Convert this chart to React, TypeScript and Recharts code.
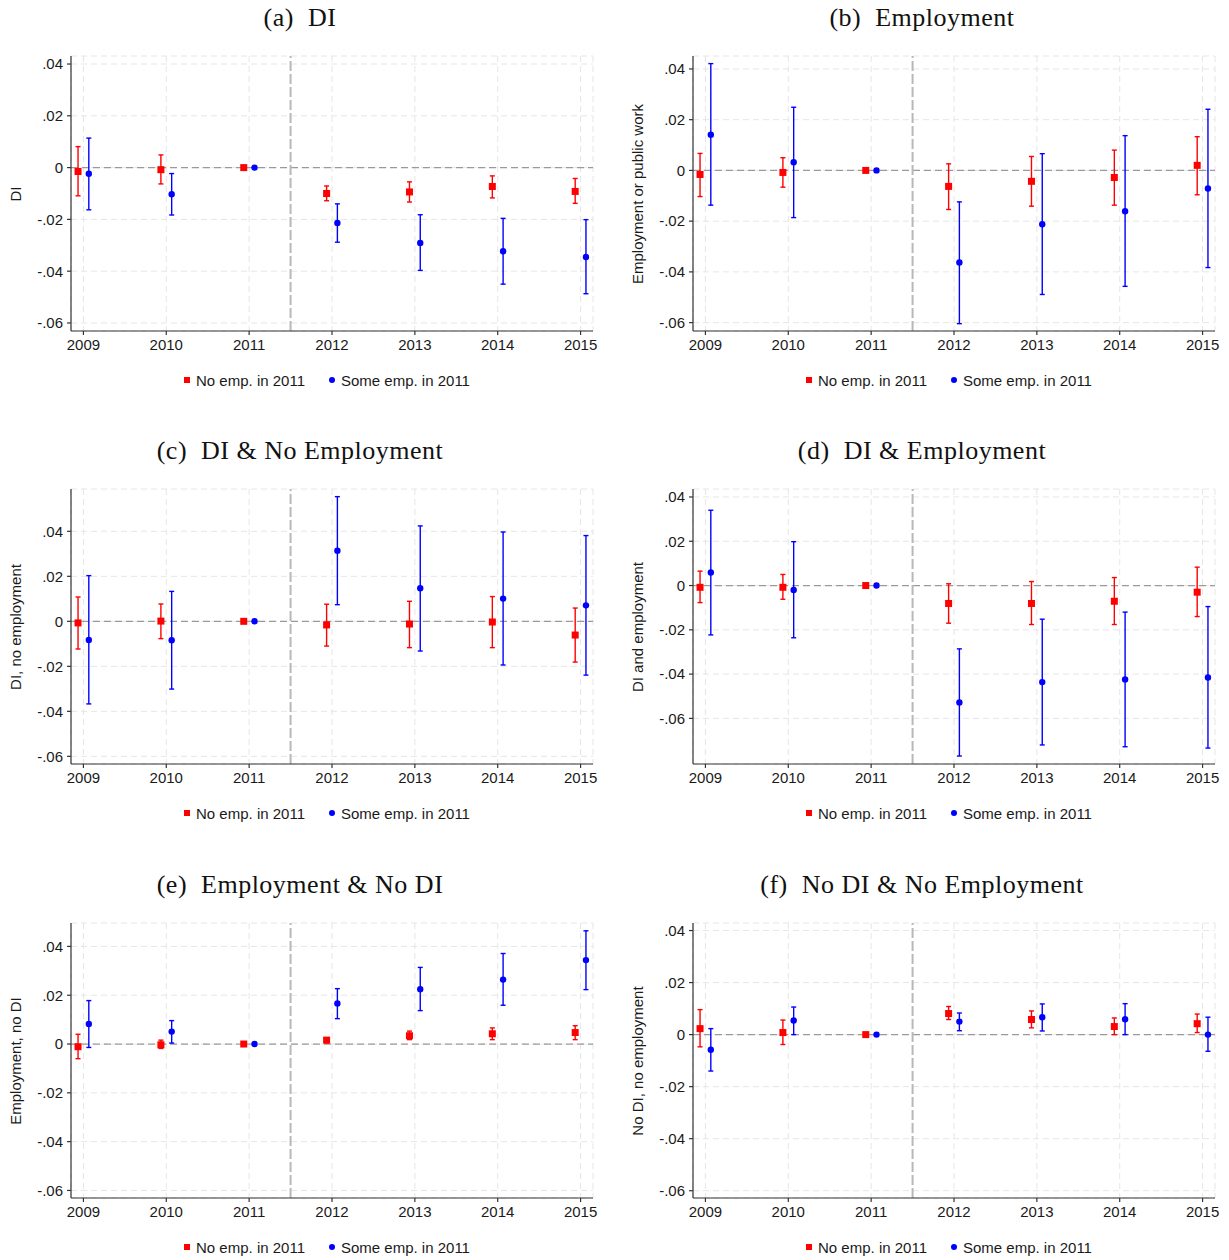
import React from "react";
import {
  ComposedChart,
  Scatter,
  ErrorBar,
  XAxis,
  YAxis,
  CartesianGrid,
  ReferenceLine,
} from "recharts";

const YEARS = [2009, 2010, 2011, 2012, 2013, 2014, 2015];
const Y_TICKS = [-0.06, -0.04, -0.02, 0, 0.02, 0.04];
const SERIES = ["No emp. in 2011", "Some emp. in 2011"];

const TITLES = [
  "(a)  DI",
  "(b)  Employment",
  "(c)  DI & No Employment",
  "(d)  DI & Employment",
  "(e)  Employment & No DI",
  "(f)  No DI & No Employment",
];
const Y_LABELS = [
  "DI",
  "Employment or public work",
  "DI, no employment",
  "DI and employment",
  "Employment, no DI",
  "No DI, no employment",
];

// [estimate, ci low, ci high] for 2009..2015
const DI_NO = [
  [-0.0015, -0.0109, 0.0081],
  [-0.0008, -0.0063, 0.0049],
  [0, 0, 0],
  [-0.01, -0.0128, -0.0071],
  [-0.0094, -0.0133, -0.0055],
  [-0.0073, -0.0117, -0.0032],
  [-0.0092, -0.0138, -0.0042],
];
const DI_SOME = [
  [-0.0024, -0.0163, 0.0114],
  [-0.0103, -0.0183, -0.0023],
  [0, 0, 0],
  [-0.0214, -0.0288, -0.014],
  [-0.0291, -0.0397, -0.0182],
  [-0.0323, -0.045, -0.0196],
  [-0.0345, -0.0487, -0.0201],
];
const EMP_NO = [
  [-0.0016, -0.0103, 0.0067],
  [-0.0008, -0.0066, 0.005],
  [0, 0, 0],
  [-0.0063, -0.0154, 0.0026],
  [-0.0043, -0.0141, 0.0055],
  [-0.0028, -0.0137, 0.008],
  [0.002, -0.0096, 0.0133],
];
const EMP_SOME = [
  [0.0141, -0.0137, 0.0421],
  [0.0032, -0.0186, 0.0249],
  [0, 0, 0],
  [-0.0363, -0.0604, -0.0124],
  [-0.0212, -0.0489, 0.0066],
  [-0.0161, -0.0457, 0.0137],
  [-0.0071, -0.0383, 0.0241],
];
const DINOEMP_NO = [
  [-0.0007, -0.0123, 0.0108],
  [0.0001, -0.0077, 0.0077],
  [0, 0, 0],
  [-0.0016, -0.011, 0.0076],
  [-0.0012, -0.0117, 0.0089],
  [-0.0003, -0.0117, 0.011],
  [-0.0061, -0.0181, 0.0059],
];
const DINOEMP_SOME = [
  [-0.0083, -0.0367, 0.0203],
  [-0.0084, -0.0301, 0.0133],
  [0, 0, 0],
  [0.0314, 0.0074, 0.0554],
  [0.0147, -0.0132, 0.0424],
  [0.0101, -0.0194, 0.0397],
  [0.0071, -0.0239, 0.0381],
];
const DIEMP_NO = [
  [-0.0008, -0.0077, 0.0065],
  [-0.0008, -0.0062, 0.005],
  [0, 0, 0],
  [-0.0081, -0.017, 0.0008],
  [-0.0081, -0.0176, 0.0018],
  [-0.0071, -0.0176, 0.0036],
  [-0.003, -0.014, 0.0083],
];
const DIEMP_SOME = [
  [0.0059, -0.0223, 0.034],
  [-0.002, -0.0236, 0.0198],
  [0, 0, 0],
  [-0.0528, -0.077, -0.0286],
  [-0.0436, -0.072, -0.0152],
  [-0.0424, -0.0728, -0.012],
  [-0.0415, -0.0734, -0.0095],
];
const EMPNODI_NO = [
  [-0.0011, -0.006, 0.004],
  [-0.0003, -0.0018, 0.0016],
  [0, 0, 0],
  [0.0016, 0.0005, 0.0026],
  [0.0034, 0.0018, 0.0053],
  [0.0042, 0.0018, 0.0066],
  [0.0047, 0.0018, 0.0075],
];
const EMPNODI_SOME = [
  [0.0082, -0.0014, 0.0178],
  [0.0051, 0.0004, 0.0096],
  [0, 0, 0],
  [0.0166, 0.0104, 0.0227],
  [0.0225, 0.0137, 0.0314],
  [0.0264, 0.0159, 0.0371],
  [0.0344, 0.0223, 0.0464],
];
const NONE_NO = [
  [0.0023, -0.0047, 0.0096],
  [0.0008, -0.0038, 0.0056],
  [0, 0, 0],
  [0.0081, 0.0058, 0.0108],
  [0.0058, 0.0026, 0.0091],
  [0.0031, 0.0, 0.0064],
  [0.0042, 0.0008, 0.0079],
];
const NONE_SOME = [
  [-0.0058, -0.014, 0.0023],
  [0.0054, 0.0, 0.0106],
  [0, 0, 0],
  [0.005, 0.0015, 0.0083],
  [0.0067, 0.0014, 0.0118],
  [0.0059, 0.0, 0.0119],
  [0.0, -0.0064, 0.0067],
];

const Y_DOMAINS: [number, number][] = [
  [-0.0631, 0.0431],
  [-0.0633, 0.0451],
  [-0.0634, 0.0588],
  [-0.0806, 0.0436],
  [-0.0631, 0.0496],
  [-0.0628, 0.0429],
];

const PANELS = [
  { no: DI_NO, some: DI_SOME },
  { no: EMP_NO, some: EMP_SOME },
  { no: DINOEMP_NO, some: DINOEMP_SOME },
  { no: DIEMP_NO, some: DIEMP_SOME },
  { no: EMPNODI_NO, some: EMPNODI_SOME },
  { no: NONE_NO, some: NONE_SOME },
];

const RED = "#ff0000";
const BLUE = "#0000ff";
const AXIS = "#333333";
const TEXT = "#1a1a1a";
const SANS = "'Liberation Sans', Arial, sans-serif";
const SERIF = "'Liberation Serif', 'Times New Roman', serif";
const DODGE = 0.065;

const PLOT_W = 522;
const PLOT_H = 275;
const ROW_TOPS = [0, 433, 867];
const PLOT_LEFTS = [71, 693];
const TITLE_CENTERS = [300, 922];
const LABEL_CENTERS = [16, 638];

const fmtTick = (v: number) => {
  if (Math.abs(v) < 1e-9) return "0";
  return v.toFixed(2).replace("0.", ".");
};

function toRows(rows: number[][], shift: number) {
  return rows.map((r, i) => ({
    x: YEARS[i] + shift,
    y: r[0],
    err: [r[0] - r[1], r[2] - r[0]],
  }));
}

const Square = (p: any) => (
  <rect x={p.cx - 3.5} y={p.cy - 3.5} width={7} height={7} fill={RED} />
);
const Dot = (p: any) => <circle cx={p.cx} cy={p.cy} r={3.2} fill={BLUE} />;

function Panel({ idx }: { idx: number }) {
  const col = idx % 2;
  const row = Math.floor(idx / 2);
  const top = ROW_TOPS[row];
  const plotLeft = PLOT_LEFTS[col];
  const yAxisW = 60;
  const chartLeft = plotLeft - yAxisW;
  const chartTop = top + 46;
  const marginTop = 10;
  const xAxisH = 30;
  const marginRight = 20;
  const w = yAxisW + PLOT_W + marginRight;
  const h = marginTop + PLOT_H + xAxisH;
  const plotCenter = plotLeft + PLOT_W / 2;
  const { no, some } = PANELS[idx];

  return (
    <>
      <div
        style={{
          position: "absolute",
          left: TITLE_CENTERS[col] - 200,
          width: 400,
          top: top + 3,
          textAlign: "center",
          fontFamily: SERIF,
          fontSize: 26,
          letterSpacing: 0.5,
          whiteSpace: "pre",
          color: "#111",
          lineHeight: "30px",
        }}
      >
        {TITLES[idx]}
      </div>
      <div
        style={{
          position: "absolute",
          left: LABEL_CENTERS[col] - 150,
          top: top + 56 + PLOT_H / 2 - 10,
          width: 300,
          height: 20,
          lineHeight: "20px",
          textAlign: "center",
          transform: "rotate(-90deg)",
          fontFamily: SANS,
          fontSize: 15,
          color: TEXT,
        }}
      >
        {Y_LABELS[idx]}
      </div>
      <div style={{ position: "absolute", left: chartLeft, top: chartTop }}>
        <ComposedChart
          width={w}
          height={h}
          margin={{ top: marginTop, right: marginRight, bottom: 0, left: 0 }}
        >
          <CartesianGrid stroke="#e6e6e6" strokeDasharray="6 4" />
          <XAxis
            type="number"
            dataKey="x"
            domain={[2008.85, 2015.15]}
            ticks={YEARS}
            allowDataOverflow
            height={xAxisH}
            tickSize={4}
            tickMargin={4}
            stroke={AXIS}
            strokeWidth={1.2}
            tick={{ fill: TEXT, fontSize: 15, fontFamily: SANS }}
          />
          <YAxis
            type="number"
            dataKey="y"
            domain={Y_DOMAINS[idx]}
            ticks={Y_TICKS}
            allowDataOverflow
            width={yAxisW}
            tickSize={4}
            tickMargin={4}
            stroke={AXIS}
            strokeWidth={1.2}
            tickFormatter={fmtTick}
            tick={{ fill: TEXT, fontSize: 15, fontFamily: SANS }}
          />
          <ReferenceLine y={0} stroke="#9a9a9a" strokeWidth={1.3} strokeDasharray="7 4" />
          <ReferenceLine x={2011.5} stroke="#b8b8b8" strokeWidth={2} strokeDasharray="10 3" />
          <Scatter
            name={SERIES[0]}
            data={toRows(no, -DODGE)}
            shape={Square}
            isAnimationActive={false}
          >
            <ErrorBar dataKey="err" direction="y" width={2.5} stroke={RED} strokeWidth={1.4} />
          </Scatter>
          <Scatter
            name={SERIES[1]}
            data={toRows(some, DODGE)}
            shape={Dot}
            isAnimationActive={false}
          >
            <ErrorBar dataKey="err" direction="y" width={2.5} stroke={BLUE} strokeWidth={1.4} />
          </Scatter>
        </ComposedChart>
      </div>
      <div
        style={{
          position: "absolute",
          left: plotCenter - 5 - 200,
          width: 400,
          top: top + 370,
          height: 20,
          display: "flex",
          justifyContent: "center",
          alignItems: "center",
          fontFamily: SANS,
          fontSize: 15,
          color: TEXT,
        }}
      >
        <span style={{ width: 6, height: 6, background: RED, marginRight: 6 }} />
        <span>{SERIES[0]}</span>
        <span
          style={{
            width: 6,
            height: 6,
            borderRadius: 3,
            background: BLUE,
            marginLeft: 24,
            marginRight: 6,
          }}
        />
        <span>{SERIES[1]}</span>
      </div>
    </>
  );
}

export default function App() {
  return (
    <div
      style={{
        position: "absolute",
        left: 0,
        top: 0,
        width: 1229,
        height: 1260,
        background: "#ffffff",
      }}
    >
      {PANELS.map((_, i) => (
        <Panel key={i} idx={i} />
      ))}
    </div>
  );
}
